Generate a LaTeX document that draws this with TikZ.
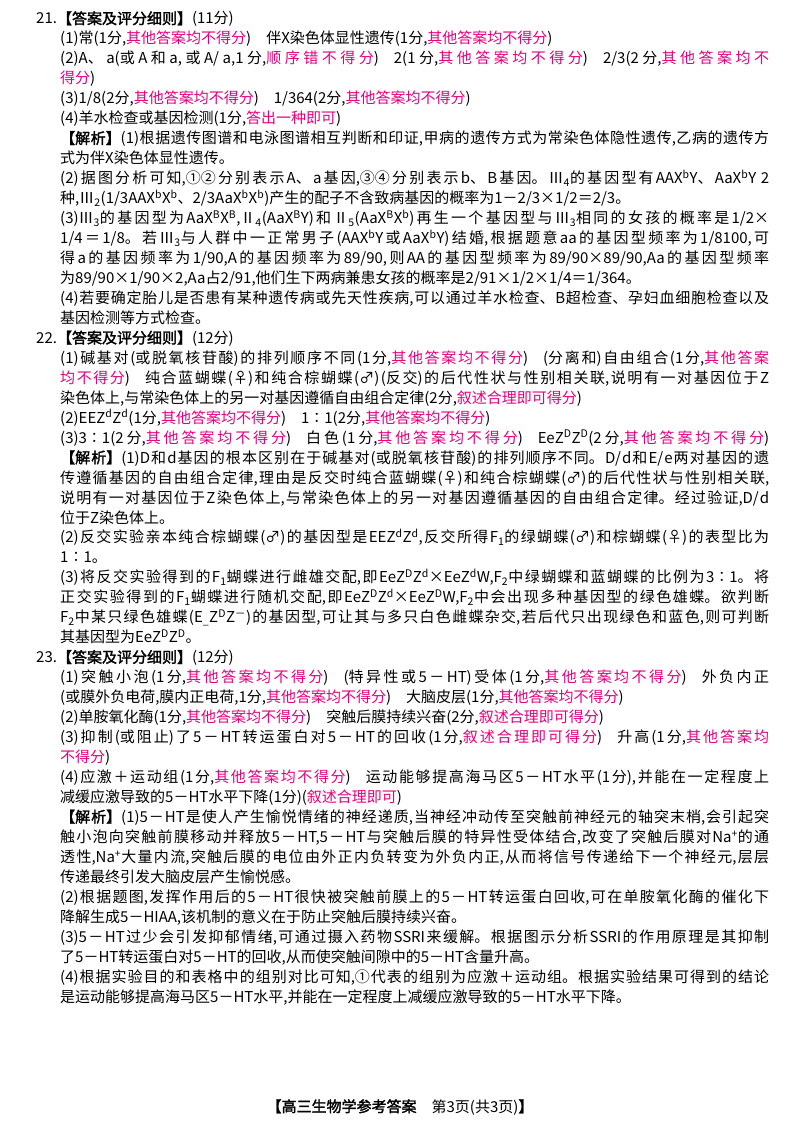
\documentclass[tikz,border=0pt]{standalone}
\usepackage{fontspec}
\setmainfont{Noto Sans CJK SC}[BoldFont={Noto Sans CJK SC},BoldFeatures={FakeBold=2}]
\definecolor{mag}{HTML}{E4007F}
\newcommand\m[1]{\textcolor{mag}{#1}}
\newcommand\su[1]{\textsuperscript{#1}}
\newcommand\sd[1]{\textsubscript{#1}}
\XeTeXlinebreaklocale "zh"
\XeTeXlinebreakskip=0pt plus 3pt
\tikzset{ln/.style={anchor=base west,inner sep=0pt,font=\fontsize{15}{16}\selectfont},
  jl/.style={ln,text width=709pt,align=justify}}
\newcommand\lineJ[2]{\node[jl] (l#1) at (60,{19+#1*19.96+5}) {\parfillskip=0pt\relax #2\par};}
\newcommand\lineN[2]{\node[ln] (l#1) at (60,{19+#1*19.96+5}) {#2};}
\newcommand\lineH[2]{\node[ln] (l#1) at (36,{19+#1*19.96+5}) {#2};}
\begin{document}
\begin{tikzpicture}[x=1pt,y=-1pt]
\useasboundingbox[fill=white] (0,0) rectangle (800,1132);
\lineH{0}{21.\textbf{【答案及评分细则】}(11分)}
\lineN{1}{(1)常(1分,\m{其他答案均不得分})\quad 伴X染色体显性遗传(1分,\m{其他答案均不得分})}
\lineJ{2}{(2)A、a(或A和a,或A/a,1分,\m{顺序错不得分})\quad 2(1分,\m{其他答案均不得分})\quad 2/3(2分,\m{其他答案均不}}
\lineN{3}{\m{得分})}
\lineN{4}{(3)1/8(2分,\m{其他答案均不得分})\quad 1/364(2分,\m{其他答案均不得分})}
\lineN{5}{(4)羊水检查或基因检测(1分,\m{答出一种即可})}
\lineJ{6}{\textbf{【解析】}(1)根据遗传图谱和电泳图谱相互判断和印证,甲病的遗传方式为常染色体隐性遗传,乙病的遗传方}
\lineN{7}{式为伴X染色体显性遗传。}
\lineJ{8}{(2)据图分析可知,①②分别表示A、a基因,③④分别表示b、B基因。Ⅲ\sd{4}的基因型有AAX\su{b}Y、AaX\su{b}Y~2}
\lineN{9}{种,Ⅲ\sd{2}(1/3AAX\su{b}X\su{b}、2/3AaX\su{b}X\su{b})产生的配子不含致病基因的概率为1－2/3×1/2＝2/3。}
\lineJ{10}{(3)Ⅲ\sd{3}的基因型为AaX\su{B}X\su{B},Ⅱ\sd{4}(AaX\su{B}Y)和Ⅱ\sd{5}(AaX\su{B}X\su{b})再生一个基因型与Ⅲ\sd{3}相同的女孩的概率是1/2×}
\lineJ{11}{1/4＝1/8。若Ⅲ\sd{3}与人群中一正常男子(AAX\su{b}Y或AaX\su{b}Y)结婚,根据题意aa的基因型频率为1/8100,可}
\lineJ{12}{得a的基因频率为1/90,A的基因频率为89/90,则AA的基因型频率为89/90×89/90,Aa的基因型频率}
\lineN{13}{为89/90×1/90×2,Aa占2/91,他们生下两病兼患女孩的概率是2/91×1/2×1/4＝1/364。}
\lineJ{14}{(4)若要确定胎儿是否患有某种遗传病或先天性疾病,可以通过羊水检查、B超检查、孕妇血细胞检查以及}
\lineN{15}{基因检测等方式检查。}
\lineH{16}{22.\textbf{【答案及评分细则】}(12分)}
\lineJ{17}{(1)碱基对(或脱氧核苷酸)的排列顺序不同(1分,\m{其他答案均不得分})\quad (分离和)自由组合(1分,\m{其他答案}}
\lineJ{18}{\m{均不得分})\quad 纯合蓝蝴蝶(♀)和纯合棕蝴蝶(♂)(反交)的后代性状与性别相关联,说明有一对基因位于Z}
\lineN{19}{染色体上,与常染色体上的另一对基因遵循自由组合定律(2分,\m{叙述合理即可得分})}
\lineN{20}{(2)EEZ\su{d}Z\su{d}(1分,\m{其他答案均不得分})\quad 1∶1(2分,\m{其他答案均不得分})}
\lineJ{21}{(3)3∶1(2分,\m{其他答案均不得分})\quad 白色(1分,\m{其他答案均不得分})\quad EeZ\su{D}Z\su{D}(2分,\m{其他答案均不得分})}
\lineJ{22}{\textbf{【解析】}(1)D和d基因的根本区别在于碱基对(或脱氧核苷酸)的排列顺序不同。D/d和E/e两对基因的遗}
\lineJ{23}{传遵循基因的自由组合定律,理由是反交时纯合蓝蝴蝶(♀)和纯合棕蝴蝶(♂)的后代性状与性别相关联,}
\lineJ{24}{说明有一对基因位于Z染色体上,与常染色体上的另一对基因遵循基因的自由组合定律。经过验证,D/d}
\lineN{25}{位于Z染色体上。}
\lineJ{26}{(2)反交实验亲本纯合棕蝴蝶(♂)的基因型是EEZ\su{d}Z\su{d},反交所得F\sd{1}的绿蝴蝶(♂)和棕蝴蝶(♀)的表型比为}
\lineN{27}{1∶1。}
\lineJ{28}{(3)将反交实验得到的F\sd{1}蝴蝶进行雌雄交配,即EeZ\su{D}Z\su{d}×EeZ\su{d}W,F\sd{2}中绿蝴蝶和蓝蝴蝶的比例为3∶1。将}
\lineJ{29}{正交实验得到的F\sd{1}蝴蝶进行随机交配,即EeZ\su{D}Z\su{d}×EeZ\su{D}W,F\sd{2}中会出现多种基因型的绿色雄蝶。欲判断}
\lineJ{30}{F\sd{2}中某只绿色雄蝶(E\sd{\_}Z\su{D}Z\su{－})的基因型,可让其与多只白色雌蝶杂交,若后代只出现绿色和蓝色,则可判断}
\lineN{31}{其基因型为EeZ\su{D}Z\su{D}。}
\lineH{32}{23.\textbf{【答案及评分细则】}(12分)}
\lineJ{33}{(1)突触小泡(1分,\m{其他答案均不得分})\quad (特异性或5－HT)受体(1分,\m{其他答案均不得分})\quad 外负内正}
\lineN{34}{(或膜外负电荷,膜内正电荷,1分,\m{其他答案均不得分})\quad 大脑皮层(1分,\m{其他答案均不得分})}
\lineN{35}{(2)单胺氧化酶(1分,\m{其他答案均不得分})\quad 突触后膜持续兴奋(2分,\m{叙述合理即可得分})}
\lineJ{36}{(3)抑制(或阻止)了5－HT转运蛋白对5－HT的回收(1分,\m{叙述合理即可得分})\quad 升高(1分,\m{其他答案均}}
\lineN{37}{\m{不得分})}
\lineJ{38}{(4)应激＋运动组(1分,\m{其他答案均不得分})\quad 运动能够提高海马区5－HT水平(1分),并能在一定程度上}
\lineN{39}{减缓应激导致的5－HT水平下降(1分)(\m{叙述合理即可})}
\lineJ{40}{\textbf{【解析】}(1)5－HT是使人产生愉悦情绪的神经递质,当神经冲动传至突触前神经元的轴突末梢,会引起突}
\lineJ{41}{触小泡向突触前膜移动并释放5－HT,5－HT与突触后膜的特异性受体结合,改变了突触后膜对Na\su{+}的通}
\lineJ{42}{透性,Na\su{+}大量内流,突触后膜的电位由外正内负转变为外负内正,从而将信号传递给下一个神经元,层层}
\lineN{43}{传递最终引发大脑皮层产生愉悦感。}
\lineJ{44}{(2)根据题图,发挥作用后的5－HT很快被突触前膜上的5－HT转运蛋白回收,可在单胺氧化酶的催化下}
\lineN{45}{降解生成5－HIAA,该机制的意义在于防止突触后膜持续兴奋。}
\lineJ{46}{(3)5－HT过少会引发抑郁情绪,可通过摄入药物SSRI来缓解。根据图示分析SSRI的作用原理是其抑制}
\lineN{47}{了5－HT转运蛋白对5－HT的回收,从而使突触间隙中的5－HT含量升高。}
\lineJ{48}{(4)根据实验目的和表格中的组别对比可知,①代表的组别为应激＋运动组。根据实验结果可得到的结论}
\lineN{49}{是运动能够提高海马区5－HT水平,并能在一定程度上减缓应激导致的5－HT水平下降。}
\node[ln,anchor=base] (foot) at (400,1112) {\textbf{【高三生物学参考答案}\quad 第3页(共3页)\textbf{】}};
\end{tikzpicture}
\end{document}
